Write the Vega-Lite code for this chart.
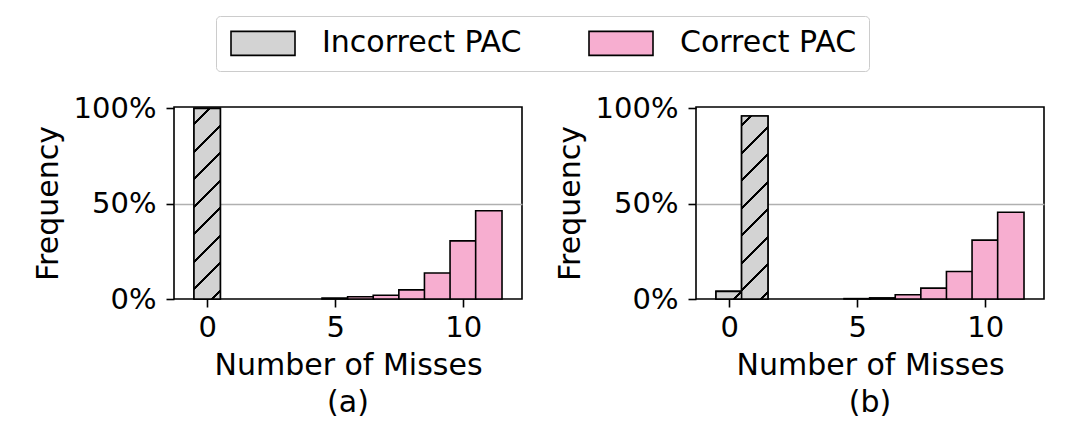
{
  "$schema": "https://vega.github.io/schema/vega-lite/v6.json",
  "padding": {"left": 32, "top": 15, "right": 5, "bottom": 5},
  "background": "white",
  "config": {
    "font": "DejaVu Sans",
    "view": {"stroke": "black", "strokeWidth": 1.6},
    "axis": {
      "domain": false, "tickColor": "black", "tickWidth": 1.6, "tickSize": 8,
      "labelFontSize": 29, "labelColor": "black", "labelFont": "DejaVu Sans",
      "titleFontSize": 30, "titleFontWeight": "normal", "titleColor": "black", "titleFont": "DejaVu Sans"
    },
    "title": {"fontSize": 30, "fontWeight": "normal", "font": "DejaVu Sans", "color": "black", "offset": 8}
  },
  "spacing": 31,
  "resolve": {"scale": {"color": "shared"}},
  "hconcat": [
    {
      "width": 348, "height": 192,
      "title": {"text": "(a)", "orient": "bottom"},
      "data": {"values": [
        {"misses": 0, "freq": 1.0, "type": "Incorrect PAC"},
        {"misses": 5, "freq": 0.005, "type": "Correct PAC"},
        {"misses": 6, "freq": 0.012, "type": "Correct PAC"},
        {"misses": 7, "freq": 0.020, "type": "Correct PAC"},
        {"misses": 8, "freq": 0.048, "type": "Correct PAC"},
        {"misses": 9, "freq": 0.136, "type": "Correct PAC"},
        {"misses": 10, "freq": 0.305, "type": "Correct PAC"},
        {"misses": 11, "freq": 0.463, "type": "Correct PAC"}
      ]},
      "encoding": {
        "x": {"field": "misses", "type": "quantitative", "scale": {"domain": [-1.1, 12.1], "nice": false, "zero": false},
          "axis": {"values": [0, 5, 10], "title": "Number of Misses", "grid": false, "labelPadding": 6, "titlePadding": 8}},
        "y": {"field": "freq", "type": "quantitative", "scale": {"domain": [0, 1.007], "nice": false},
          "axis": {"values": [0, 0.5, 1], "format": ".0%", "title": "Frequency", "grid": true,
            "gridColor": {"condition": {"test": "datum.value === 0.5", "value": "#b0b0b0"}, "value": "transparent"},
            "gridWidth": 1.5, "labelPadding": 10, "titlePadding": 10}}
      },
      "layer": [
        {
          "mark": {"type": "bar", "width": 26.36, "stroke": "black", "strokeWidth": 1.6},
          "encoding": {
            "color": {"field": "type", "type": "nominal",
              "scale": {"domain": ["Incorrect PAC", "Correct PAC"], "range": ["#d3d3d3", "#f7aed0"]},
              "legend": {
                "orient": "none", "legendX": 42, "legendY": -91, "direction": "horizontal", "title": null,
                "symbolType": "M-1,-1H4.3333V1H-1Z", "symbolSize": 576,
                "symbolStrokeColor": "black", "symbolStrokeWidth": 1.6,
                "labelFontSize": 30, "labelFont": "DejaVu Sans", "labelColor": "black", "labelOffset": 64, "labelLimit": 400,
                "columnPadding": 63, "padding": 12, "strokeColor": "#cccccc", "cornerRadius": 4,
                "encode": {"symbols": {"update": {
                  "stroke": {"value": "black"},
                  "strokeWidth": {"value": 1.6}
                }}}
              }}
          }
        },
        {
          "transform": [{"filter": "datum.type === 'Incorrect PAC' && datum.misses === 0"}],
          "mark": {"type": "bar", "width": 26.36, "stroke": "black", "strokeWidth": 1.6,
            "fill": {"gradient": "linear", "x1": 0, "y1": 0, "x2": 0.1544, "y2": 1.1169, "stops": [
              {"offset": 0, "color": "#d3d3d3"},
              {"offset": 0.0668, "color": "#d3d3d3"}, {"offset": 0.0668, "color": "#000000"}, {"offset": 0.0798, "color": "#000000"}, {"offset": 0.0798, "color": "#d3d3d3"},
              {"offset": 0.1935, "color": "#d3d3d3"}, {"offset": 0.1935, "color": "#000000"}, {"offset": 0.2065, "color": "#000000"}, {"offset": 0.2065, "color": "#d3d3d3"},
              {"offset": 0.3201, "color": "#d3d3d3"}, {"offset": 0.3201, "color": "#000000"}, {"offset": 0.3331, "color": "#000000"}, {"offset": 0.3331, "color": "#d3d3d3"},
              {"offset": 0.4468, "color": "#d3d3d3"}, {"offset": 0.4468, "color": "#000000"}, {"offset": 0.4598, "color": "#000000"}, {"offset": 0.4598, "color": "#d3d3d3"},
              {"offset": 0.5735, "color": "#d3d3d3"}, {"offset": 0.5735, "color": "#000000"}, {"offset": 0.5865, "color": "#000000"}, {"offset": 0.5865, "color": "#d3d3d3"},
              {"offset": 0.7002, "color": "#d3d3d3"}, {"offset": 0.7002, "color": "#000000"}, {"offset": 0.7132, "color": "#000000"}, {"offset": 0.7132, "color": "#d3d3d3"},
              {"offset": 0.8268, "color": "#d3d3d3"}, {"offset": 0.8268, "color": "#000000"}, {"offset": 0.8398, "color": "#000000"}, {"offset": 0.8398, "color": "#d3d3d3"},
              {"offset": 0.9535, "color": "#d3d3d3"}, {"offset": 0.9535, "color": "#000000"}, {"offset": 0.9665, "color": "#000000"}, {"offset": 0.9665, "color": "#d3d3d3"},
              {"offset": 1, "color": "#d3d3d3"}
            ]}},
          "encoding": {}
        }
      ]
    },
    {
      "width": 348, "height": 192,
      "title": {"text": "(b)", "orient": "bottom"},
      "data": {"values": [
        {"misses": 0, "freq": 0.040, "type": "Incorrect PAC"},
        {"misses": 1, "freq": 0.960, "type": "Incorrect PAC"},
        {"misses": 5, "freq": 0.002, "type": "Correct PAC"},
        {"misses": 6, "freq": 0.006, "type": "Correct PAC"},
        {"misses": 7, "freq": 0.022, "type": "Correct PAC"},
        {"misses": 8, "freq": 0.057, "type": "Correct PAC"},
        {"misses": 9, "freq": 0.144, "type": "Correct PAC"},
        {"misses": 10, "freq": 0.309, "type": "Correct PAC"},
        {"misses": 11, "freq": 0.455, "type": "Correct PAC"}
      ]},
      "encoding": {
        "x": {"field": "misses", "type": "quantitative", "scale": {"domain": [-1.1, 12.1], "nice": false, "zero": false},
          "axis": {"values": [0, 5, 10], "title": "Number of Misses", "grid": false, "labelPadding": 6, "titlePadding": 8}},
        "y": {"field": "freq", "type": "quantitative", "scale": {"domain": [0, 1.007], "nice": false},
          "axis": {"values": [0, 0.5, 1], "format": ".0%", "title": "Frequency", "grid": true,
            "gridColor": {"condition": {"test": "datum.value === 0.5", "value": "#b0b0b0"}, "value": "transparent"},
            "gridWidth": 1.5, "labelPadding": 10, "titlePadding": 10}}
      },
      "layer": [
        {
          "mark": {"type": "bar", "width": 26.36, "stroke": "black", "strokeWidth": 1.6},
          "encoding": {"color": {"field": "type", "type": "nominal"}}
        },
        {
          "transform": [{"filter": "datum.type === 'Incorrect PAC' && datum.misses === 0"}],
          "mark": {"type": "bar", "width": 26.36, "stroke": "black", "strokeWidth": 1.6,
            "fill": {"gradient": "linear", "x1": 0, "y1": 0, "x2": 1.1898, "y2": 0.3444, "stops": [
              {"offset": 0, "color": "#d3d3d3"},
              {"offset": 0.719, "color": "#d3d3d3"}, {"offset": 0.719, "color": "#000000"}, {"offset": 0.801, "color": "#000000"}, {"offset": 0.801, "color": "#d3d3d3"},
              {"offset": 1, "color": "#d3d3d3"}
            ]}},
          "encoding": {}
        },
        {
          "transform": [{"filter": "datum.type === 'Incorrect PAC' && datum.misses === 1"}],
          "mark": {"type": "bar", "width": 26.36, "stroke": "black", "strokeWidth": 1.6,
            "fill": {"gradient": "linear", "x1": 0, "y1": 0, "x2": 0.1614, "y2": 1.1208, "stops": [
              {"offset": 0, "color": "#d3d3d3"},
              {"offset": 0.0401, "color": "#d3d3d3"}, {"offset": 0.0401, "color": "#000000"}, {"offset": 0.0535, "color": "#000000"}, {"offset": 0.0535, "color": "#d3d3d3"},
              {"offset": 0.1715, "color": "#d3d3d3"}, {"offset": 0.1715, "color": "#000000"}, {"offset": 0.1849, "color": "#000000"}, {"offset": 0.1849, "color": "#d3d3d3"},
              {"offset": 0.3028, "color": "#d3d3d3"}, {"offset": 0.3028, "color": "#000000"}, {"offset": 0.3162, "color": "#000000"}, {"offset": 0.3162, "color": "#d3d3d3"},
              {"offset": 0.4342, "color": "#d3d3d3"}, {"offset": 0.4342, "color": "#000000"}, {"offset": 0.4476, "color": "#000000"}, {"offset": 0.4476, "color": "#d3d3d3"},
              {"offset": 0.5655, "color": "#d3d3d3"}, {"offset": 0.5655, "color": "#000000"}, {"offset": 0.5789, "color": "#000000"}, {"offset": 0.5789, "color": "#d3d3d3"},
              {"offset": 0.6969, "color": "#d3d3d3"}, {"offset": 0.6969, "color": "#000000"}, {"offset": 0.7103, "color": "#000000"}, {"offset": 0.7103, "color": "#d3d3d3"},
              {"offset": 0.8282, "color": "#d3d3d3"}, {"offset": 0.8282, "color": "#000000"}, {"offset": 0.8416, "color": "#000000"}, {"offset": 0.8416, "color": "#d3d3d3"},
              {"offset": 0.9596, "color": "#d3d3d3"}, {"offset": 0.9596, "color": "#000000"}, {"offset": 0.9730, "color": "#000000"}, {"offset": 0.9730, "color": "#d3d3d3"},
              {"offset": 1, "color": "#d3d3d3"}
            ]}},
          "encoding": {}
        }
      ]
    }
  ]
}
